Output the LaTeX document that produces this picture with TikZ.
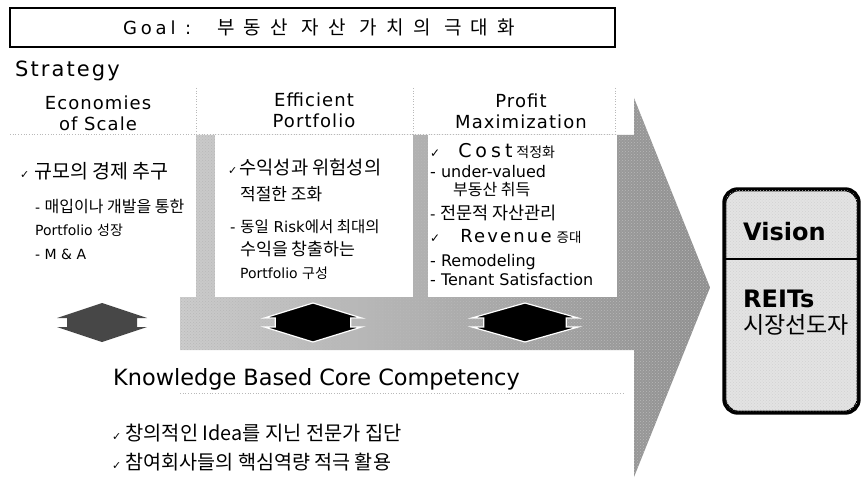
\documentclass[tikz,border=0pt]{standalone}
\usepackage{fontspec}
\setmainfont{DejaVu Sans}
\newfontfamily\kr{Noto Sans CJK KR}
\newfontfamily\krsp{Noto Sans CJK KR}[LetterSpace=49]
\newfontfamily\goalfont{DejaVu Sans}[LetterSpace=21]
\newfontfamily\hd{DejaVu Sans}[LetterSpace=6]
\newfontfamily\stratfont{DejaVu Sans}[LetterSpace=10]
\newfontfamily\costfont{DejaVu Sans}[LetterSpace=21]
\newfontfamily\wide{DejaVu Sans}[LetterSpace=12]
\newcommand\fsz[1]{\fontsize{#1}{#1}\selectfont}
\newcommand\ck[1][11]{{\fsz{#1}✓}}
\usetikzlibrary{patterns}
\begin{document}
\begin{tikzpicture}[x=1pt,y=-1pt,
  txt/.style={inner sep=0pt, anchor=base west},
  hdr/.style={inner sep=0pt, align=center, font=\hd\fontsize{18}{21}\selectfont},
  guide/.style={draw=gray!55, dotted, line width=0.7pt},
  bigarrow/.style={left color=black!20, right color=black!44, draw=none},
  grain/.style={pattern=crosshatch dots, pattern color=black!28},
  softgrain/.style={pattern=crosshatch dots, pattern color=black!18},
  panel/.style={fill=white},
  updown/.pic={\path[pic actions] (-45,-4.5) -- (0,-19.5) -- (45,-4.5) -- (35,-4.5) -- (35,4.5)
     -- (45,4.5) -- (0,19.5) -- (-45,4.5) -- (-35,4.5) -- (-35,-4.5) -- cycle;},
]
\useasboundingbox (0,0) rectangle (867,486);

% goal banner
\node[draw, line width=1.6pt, minimum width=605pt, minimum height=39pt, inner sep=0pt] (goal)
  at (312.5,27.5) {};
\node[txt] (goaltext) at (123,35) {{\goalfont\fsz{18}Goal :}\hspace{26pt}{\krsp\fsz{19}부동산 자산 가치의 극대화}};

\node[txt, font=\stratfont\fsz{21}] (strategy) at (15,77) {Strategy};

% the large arrow pointing to the vision
\path[bigarrow] (180,297) -- (196,297) -- (196,135) -- (634,135) -- (634,98) -- (710,287.5)
  -- (634,477) -- (634,350) -- (180,350) -- cycle;
\path[grain] (180,297) -- (196,297) -- (196,135) -- (634,135) -- (634,98) -- (710,287.5)
  -- (634,477) -- (634,350) -- (180,350) -- cycle;
\fill[panel] (215,135) rectangle (413,297);
\fill[panel] (428,135) rectangle (617,297);

% column guides
\draw[guide] (10,134) -- (615,134);
\draw[guide] (196,88) -- (196,134);
\draw[guide] (413,88) -- (413,134);
\draw[guide] (615,88) -- (615,134);
\draw[guide] (180,393) -- (623,393);

% column headers
\node[hdr] (h1) at (98,113) {Economies\\of Scale};
\node[hdr] (h2) at (314,110.5) {Efficient\\Portfolio};
\node[hdr] (h3) at (521,111) {Profit\\Maximization};

% column 1
\node[txt] (c1a) at (20,179) {\ck\hspace{5pt}{\kr\fsz{19.5}규모의 경제 추구}};
\node[txt, font=\fsz{14}] (c1b) at (35,213) {- {\kr\fsz{16}매입이나 개발을 통한}};
\node[txt, font=\fsz{14}] (c1c) at (35,236) {Portfolio {\kr 성장}};
\node[txt, font=\fsz{14}] (c1d) at (35,260) {- M \& A};

% column 2
\node[txt] (c2a) at (228,175) {\ck\hspace{2pt}{\kr\fsz{18.7}수익성과 위험성의}};
\node[txt, font=\kr\fsz{17}] (c2b) at (240,201) {적절한 조화};
\node[txt, font=\fsz{15}] (c2c) at (230,232.5) {- {\kr\fsz{15.5}동일} Risk{\kr\fsz{15.5}에서 최대의}};
\node[txt, font=\kr\fsz{17.3}] (c2d) at (240,256) {수익을 창출하는};
\node[txt, font=\fsz{14}] (c2e) at (240,278.5) {Portfolio {\kr 구성}};

% column 3
\node[txt] (c3a) at (430,158) {\ck[12]\hspace{18pt}{\costfont\fsz{19}Cost}\hspace{4pt}{\kr\fsz{14}적정화}};
\node[txt, font=\fsz{16}] (c3b) at (430,178) {- under-valued};
\node[txt, font=\kr\fsz{16}] (c3c) at (453,195.5) {부동산 취득};
\node[txt, font=\fsz{15}] (c3d) at (430,219.5) {- {\kr\fsz{17.5}전문적 자산관리}};
\node[txt] (c3e) at (430,243) {\ck[12]\hspace{20pt}{\wide\fsz{18}Revenue}\hspace{5pt}{\kr\fsz{13.5}증대}};
\node[txt, font=\fsz{16}] (c3f) at (430,266) {- Remodeling};
\node[txt, font=\fsz{16}] (c3g) at (430,286) {- Tenant Satisfaction};

% linking double arrows
\pic[fill=black!72] (ud1) at (102,322.5) {updown};
\pic[fill=black, draw=white, line width=1.2pt, xscale=1.08] (ud2) at (313,322.5) {updown};
\pic[fill=black, draw=white, line width=1.2pt, xscale=1.18] (ud3) at (525,322.5) {updown};

% core competency
\node[txt, font=\fsz{22.4}] (kb) at (113,385) {Knowledge Based Core Competency};
\node[txt] (kb1) at (112,440) {\ck\hspace{4pt}{\kr\fsz{19.8}창의적인 Idea를 지닌 전문가 집단}};
\node[txt] (kb2) at (112,469) {\ck\hspace{4pt}{\kr\fsz{19.6}참여회사들의 핵심역량 적극 활용}};

% vision box
\coordinate (divy) at (0,259);
\node[draw, line width=2.6pt, rounded corners=14pt, fill=black!11, minimum width=133pt,
  minimum height=222pt, inner sep=0pt] (vision) at (791.5,301) {};
\path[softgrain, rounded corners=14pt] (vision.north west) rectangle (vision.south east);
\draw[line width=2.8pt, rounded corners=14pt] (vision.north west) rectangle (vision.south east);
\draw[line width=2pt] (vision.west |- divy) -- (vision.east |- divy);
\node[txt, font=\bfseries\fsz{24}] (vis) at (743,240.5) {Vision};
\node[txt, font=\bfseries\fsz{24}] (reits) at (743,307) {REITs};
\node[txt, font=\kr\fsz{23}] (leader) at (743,333.5) {시장선도자};
\end{tikzpicture}
\end{document}
